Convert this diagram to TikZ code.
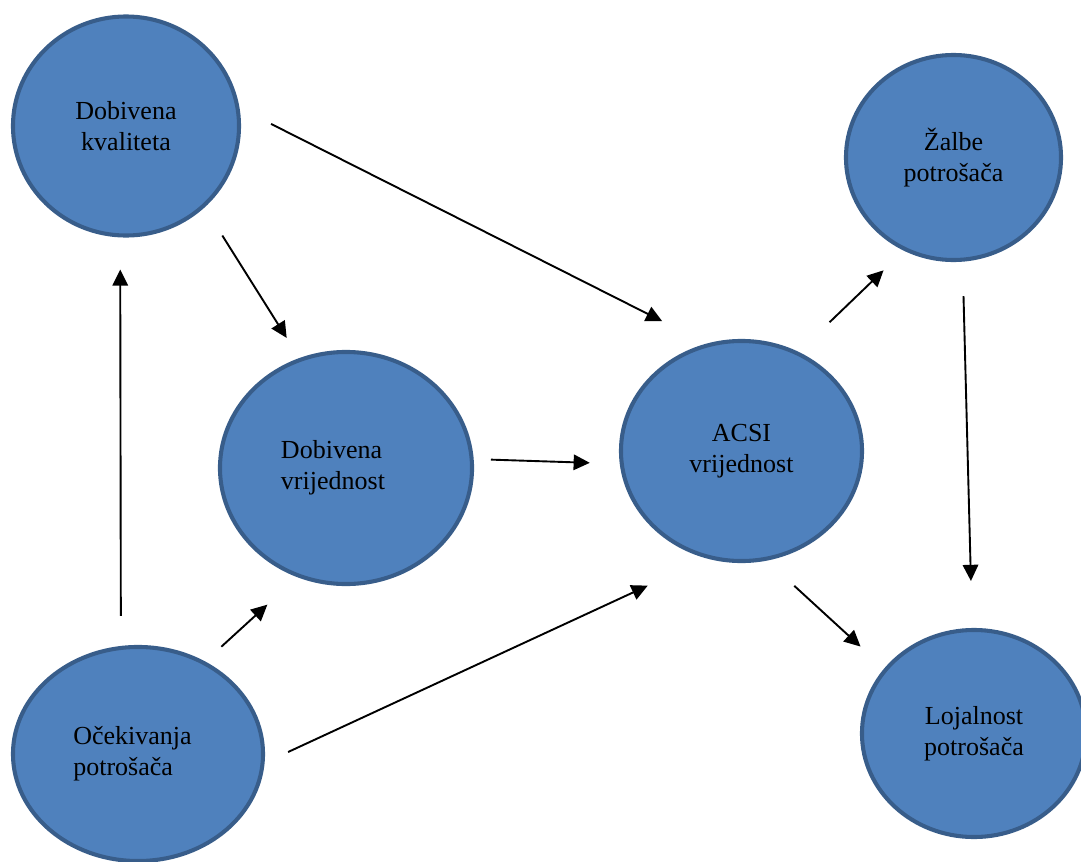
\documentclass[tikz,border=0pt]{standalone}
\usepackage{fontspec}
\setmainfont{Liberation Serif}
\usepackage{tikz}
\usetikzlibrary{shapes.geometric}
\usetikzlibrary{arrows.meta}
\tikzset{>={Triangle[width=11pt,length=11.5pt]}}
\definecolor{bubblefill}{HTML}{4F81BD}
\definecolor{bubbleline}{HTML}{385D8A}

\begin{document}
\begin{tikzpicture}[x=0.025cm, y=-0.025cm, bubble/.style={ellipse, draw=bubbleline, fill=bubblefill, line width=2.9pt, inner sep=0pt, align=center, font=\fontsize{18.5pt}{22pt}\selectfont}, link/.style={->, line width=1.35pt}]

    \useasboundingbox (0,0) rectangle (1081,862);

    %Nodes
    \node[bubble, minimum width=5.65cm, minimum height=5.475cm](kval) at (126,126) {Dobivena\\kvaliteta};
    \node[bubble, minimum width=5.375cm, minimum height=5.125cm](zalbe) at (953.5,157.5) {Žalbe\\potrošača};
    \node[bubble, minimum width=6.3cm, minimum height=5.8cm, align=left](vrij) at (346,468) {Dobivena\\vrijednost\hspace*{0.65cm}};
    \node[bubble, minimum width=6.025cm, minimum height=5.5cm](acsi) at (741.5,451) {ACSI\\vrijednost};
    \node[bubble, minimum width=6.25cm, minimum height=5.35cm, align=left](ocek) at (138,754) {Očekivanja\hspace*{0.275cm}\\potrošača};
    \node[bubble, minimum width=5.6cm, minimum height=5.175cm](loj) at (974,733.5) {Lojalnost\\potrošača};

    %Lines
    \draw[link, shorten <=25.1pt, shorten >=35.4pt] (kval.9) -- (acsi.108);
    \draw[link, shorten <=23.6pt, shorten >=16.9pt] (kval.-46) -- (vrij.113);
    \draw[link, shorten <=21.3pt, shorten >=22.8pt] (ocek.99) -- (kval.-93);
    \draw[link, shorten <=15.5pt, shorten >=28.9pt] (ocek.54) -- (vrij.-114);
    \draw[link, shorten <=18.4pt, shorten >=46.1pt] (ocek.-4) -- (acsi.-108);
    \draw[link, shorten <=12.3pt, shorten >=21.3pt] (vrij.4) -- (acsi.186);
    \draw[link, shorten <=30.4pt, shorten >=20.1pt] (acsi.60) -- (zalbe.-118);
    \draw[link, shorten <=24.5pt, shorten >=33.4pt] (zalbe.-85) -- (loj.91);
    \draw[link, shorten <=26.5pt, shorten >=22.9pt] (acsi.-77) -- (loj.144);

\end{tikzpicture}
\end{document}
